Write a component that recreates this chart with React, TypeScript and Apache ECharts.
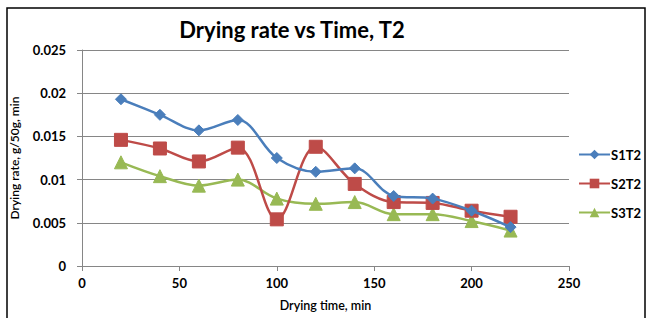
import React, { useEffect, useRef } from "react";
import * as echarts from "echarts";

const times = [20, 40, 60, 80, 100, 120, 140, 160, 180, 200, 220];
const s1t2 = [0.0193, 0.0175, 0.0157, 0.0169, 0.0125, 0.0109, 0.0113, 0.0081, 0.0078, 0.0064, 0.0045];
const s2t2 = [0.0146, 0.0136, 0.0121, 0.0137, 0.0054, 0.0138, 0.0095, 0.0074, 0.0073, 0.0064, 0.0057];
const s3t2 = [0.012, 0.0104, 0.0093, 0.01, 0.0078, 0.0072, 0.0074, 0.006, 0.006, 0.0052, 0.0041];
const seriesNames = ["S1T2", "S2T2", "S3T2"];
const colors = ["#4A7EBB", "#BE4B48", "#98B954"];
const FONT = "Lato, 'Open Sans', sans-serif";

export default function App() {
  const ref = useRef<HTMLDivElement>(null);
  useEffect(() => {
    if (!ref.current) return;
    const chart = echarts.init(ref.current, null, { renderer: "svg" });
    const mk = (vals: number[]) => times.map((t, i) => [t, vals[i]]);
    const symbols = ["diamond", "rect", "triangle"];
    const sizes = [11, 13, 13];
    const datas = [s1t2, s2t2, s3t2];
    chart.setOption({
      animation: false,
      backgroundColor: "#fff",
      title: {
        text: "Drying rate vs Time, T2",
        left: 287,
        textAlign: "center",
        top: 13,
        textStyle: { fontFamily: FONT, fontSize: 22, fontWeight: "bold", color: "#000" },
      },
      legend: {
        orient: "vertical",
        left: 578,
        top: 148,
        itemGap: 16,
        itemWidth: 31,
        itemHeight: 12,
        padding: 0,
        data: seriesNames,
        textStyle: { fontFamily: FONT, fontSize: 13, fontWeight: "bold", color: "#000", padding: [0, 0, 0, -4] },
      },
      grid: { left: 80, right: 78, top: 50, bottom: 52 },
      xAxis: {
        type: "value",
        min: 0,
        max: 250,
        interval: 50,
        name: "Drying time, min",
        nameLocation: "middle",
        nameGap: 33,
        nameTextStyle: { fontFamily: FONT, fontSize: 12.5, fontWeight: 600, color: "#000" },
        axisLine: { show: true, lineStyle: { color: "#868686" } },
        axisTick: { show: true, length: 5, lineStyle: { color: "#868686" } },
        axisLabel: { fontFamily: FONT, fontSize: 13, fontWeight: "bold", color: "#000", margin: 10 },
        splitLine: { show: false },
      },
      yAxis: {
        type: "value",
        min: 0,
        max: 0.025,
        interval: 0.005,
        name: "Drying rate, g/50g, min",
        nameLocation: "middle",
        nameGap: 62,
        nameTextStyle: { fontFamily: FONT, fontSize: 12, fontWeight: 600, color: "#000" },
        axisLine: { show: true, lineStyle: { color: "#868686" } },
        axisTick: { show: true, length: 5, lineStyle: { color: "#868686" } },
        axisLabel: { fontFamily: FONT, fontSize: 13, fontWeight: "bold", color: "#000", margin: 16 },
        splitLine: { show: true, lineStyle: { color: "#868686" } },
      },
      series: seriesNames.map((n, i) => ({
        name: n,
        type: "line",
        data: mk(datas[i]),
        smooth: 0.35,
        symbol: symbols[i],
        symbolSize: sizes[i],
        lineStyle: { color: colors[i], width: 2.5 },
        itemStyle: { color: colors[i], borderColor: colors[i] },
        z: 3 - i,
      })),
      graphic: [
        {
          type: "rect",
          shape: { x: 7, y: 8, width: 638, height: 312 },
          style: { fill: "none", stroke: "#000", lineWidth: 1.5 },
          silent: true,
        },
      ],
    });
    return () => chart.dispose();
  }, []);
  return <div ref={ref} style={{ position: "absolute", left: 0, top: 0, width: 647, height: 318 }} />;
}
